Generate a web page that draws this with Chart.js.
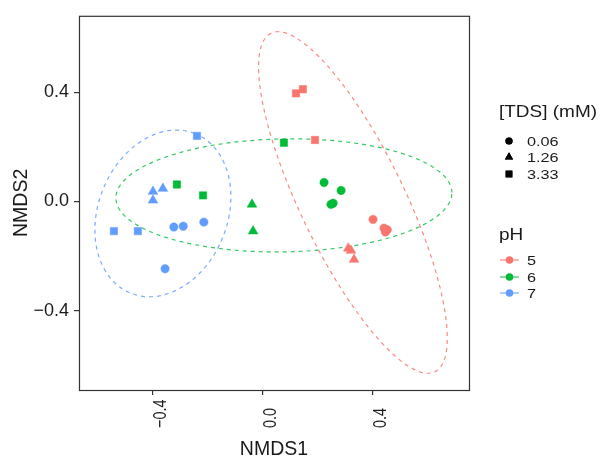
<!DOCTYPE html>
<html>
<head>
<meta charset="utf-8">
<script src="https://cdn.jsdelivr.net/npm/chart.js@4.4.1/dist/chart.umd.min.js"></script>
<style>
  body { margin: 0; background: #fff; }
  #wrap { width: 602px; height: 456px; position: relative; }
</style>
</head>
<body>
<div id="wrap"><canvas id="nmds"></canvas></div>
<script>
// Valores (NMDS1, NMDS2) por grupo de pH
const ph5X = [0.12, 0.145, 0.189, 0.40, 0.44, 0.452, 0.445, 0.31, 0.32, 0.331];
const ph5Y = [0.396, 0.411, 0.225, -0.066, -0.098, -0.104, -0.112, -0.172, -0.18, -0.213];
const ph5Tds = ['3.33', '3.33', '3.33', '0.06', '0.06', '0.06', '0.06', '1.26', '1.26', '1.26'];

const ph6X = [-0.313, -0.218, 0.076, -0.04, -0.036, 0.222, 0.284, 0.247, 0.255];
const ph6Y = [0.062, 0.022, 0.215, -0.011, -0.109, 0.069, 0.04, -0.011, -0.007];
const ph6Tds = ['3.33', '3.33', '3.33', '1.26', '1.26', '0.06', '0.06', '0.06', '0.06'];

const ph7X = [-0.24, -0.542, -0.455, -0.40, -0.364, -0.40, -0.324, -0.29, -0.215, -0.356];
const ph7Y = [0.24, -0.109, -0.109, 0.036, 0.047, 0.004, -0.094, -0.091, -0.076, -0.247];
const ph7Tds = ['3.33', '3.33', '3.33', '1.26', '1.26', '1.26', '0.06', '0.06', '0.06', '0.06'];

// Elipses (centro, semiejes, ángulo en grados) estimadas del gráfico
const phLevels = ['5', '6', '7'];
const ellipseCx = [0.327, 0.076, -0.364];
const ellipseCy = [-0.004, 0.022, -0.044];
const ellipseA = [0.688, 0.611, 0.315];
const ellipseB = [0.190, 0.207, 0.235];
const ellipseAngle = [115.6, 1, 68.5];

const tdsLevels = ['0.06', '1.26', '3.33'];
const xTicks = [-0.4, 0.0, 0.4];
const xTickLabels = ['\u22120.4', '0.0', '0.4'];
const yTicks = [-0.4, 0.0, 0.4];
const yTickLabels = ['\u22120.4', '0.0', '0.4'];

const colores = ['#F8766D', '#00BA38', '#619CFF'];
const coloresElipse = ['rgba(248,118,109,0.85)', 'rgba(0,186,56,0.8)', 'rgba(97,156,255,0.85)'];
const estilos = { '0.06': 'circle', '1.26': 'triangle', '3.33': 'rect' };
const radios = { '0.06': 4.2, '1.26': 5.6, '3.33': 5.2 };
const FONT = "'Liberation Sans', Arial, Helvetica, sans-serif";

function puntos(xs, ys) {
    return xs.map((x, i) => ({ x: x, y: ys[i] }));
}

function elipse(k) {
    const t = ellipseAngle[k] * Math.PI / 180;
    const pts = [];
    for (let i = 0; i <= 120; i++) {
        const u = i / 120 * 2 * Math.PI;
        const ex = ellipseA[k] * Math.cos(u), ey = ellipseB[k] * Math.sin(u);
        pts.push({
            x: ellipseCx[k] + ex * Math.cos(t) - ey * Math.sin(t),
            y: ellipseCy[k] + ex * Math.sin(t) + ey * Math.cos(t)
        });
    }
    return pts;
}

const grupos = [[ph5X, ph5Y, ph5Tds], [ph6X, ph6Y, ph6Tds], [ph7X, ph7Y, ph7Tds]];
const datasets = [];
grupos.forEach((g, k) => {
    datasets.push({
        label: 'pH ' + phLevels[k],
        data: puntos(g[0], g[1]),
        backgroundColor: colores[k],
        borderColor: colores[k],
        borderWidth: 0.5,
        pointStyle: g[2].map(t => estilos[t]),
        pointRadius: g[2].map(t => radios[t]),
        showLine: false
    });
});
grupos.forEach((g, k) => {
    datasets.push({
        label: 'elipse ' + phLevels[k],
        data: elipse(k),
        showLine: true,
        borderColor: coloresElipse[k],
        borderWidth: 1.2,
        borderDash: [4, 4],
        pointRadius: 0,
        fill: false,
        tension: 0
    });
});

function texto(ctx, s, x, y, size, sx, rot, align) {
    ctx.save();
    ctx.translate(x, y);
    if (rot) ctx.rotate(rot);
    ctx.scale(sx, 1);
    ctx.font = size + 'px ' + FONT;
    ctx.textAlign = align || 'left';
    ctx.textBaseline = 'alphabetic';
    ctx.fillStyle = '#1a1a1a';
    ctx.fillText(s, 0, 0);
    ctx.restore();
}

const extras = {
    id: 'extras',
    afterDraw(chart) {
        const ctx = chart.ctx;
        const a = chart.chartArea;
        const xs = chart.scales.x;
        // marco del panel
        ctx.save();
        ctx.strokeStyle = '#333';
        ctx.lineWidth = 1.2;
        ctx.strokeRect(a.left + 0.5, a.top + 0.5, a.right - a.left, a.bottom - a.top);
        ctx.restore();
        // etiquetas del eje x (giradas)
        xTicks.forEach((v, i) => {
            const px = xs.getPixelForValue(v);
            texto(ctx, xTickLabels[i], px + 13, 428, 18.5, 0.78, -Math.PI / 2, 'left');
        });
        // títulos de ejes
        texto(ctx, 'NMDS1', (a.left + a.right) / 2, 455, 19.5, 1, 0, 'center');
        texto(ctx, 'NMDS2', 27, (a.top + a.bottom) / 2, 19.5, 1, -Math.PI / 2, 'center');
        // leyenda TDS
        texto(ctx, '[TDS] (mM)', 499, 117, 16.5, 1.15, 0, 'left');
        const yTds = [141, 157, 174];
        tdsLevels.forEach((t, i) => {
            ctx.save();
            ctx.fillStyle = '#000';
            Chart.helpers.drawPoint(ctx, { pointStyle: estilos[t], radius: t === '0.06' ? 3.6 : 4.8, borderWidth: 0 }, 509, yTds[i]);
            ctx.fill();
            ctx.restore();
            texto(ctx, t, 527, yTds[i] + 5, 13, 1.25, 0, 'left');
        });
        // leyenda pH
        texto(ctx, 'pH', 499, 240, 16.5, 1.15, 0, 'left');
        const yPh = [260, 277, 293];
        phLevels.forEach((p, i) => {
            ctx.save();
            ctx.strokeStyle = coloresElipse[i];
            ctx.lineWidth = 1.2;
            ctx.beginPath();
            ctx.moveTo(500, yPh[i]);
            ctx.lineTo(519, yPh[i]);
            ctx.stroke();
            ctx.fillStyle = colores[i];
            ctx.beginPath();
            ctx.arc(509.5, yPh[i], 3.8, 0, 2 * Math.PI);
            ctx.fill();
            ctx.restore();
            texto(ctx, p, 527, yPh[i] + 5, 13, 1.25, 0, 'left');
        });
    }
};

new Chart(document.getElementById('nmds'), {
    type: 'scatter',
    data: { datasets: datasets },
    options: {
        responsive: true,
        maintainAspectRatio: false,
        animation: false,
        layout: { padding: { left: 0, top: 13, right: 133, bottom: 0 } },
        plugins: { legend: { display: false }, tooltip: { enabled: false } },
        scales: {
            x: {
                type: 'linear',
                min: -0.669,
                max: 0.749,
                afterBuildTicks: s => { s.ticks = xTicks.map(v => ({ value: v })); },
                afterFit: s => { s.height = 66; },
                grid: { drawOnChartArea: false, drawTicks: true, tickLength: 5, color: '#333', lineWidth: 1.2 },
                border: { display: false },
                ticks: { display: false }
            },
            y: {
                type: 'linear',
                min: -0.691,
                max: 0.680,
                afterBuildTicks: s => { s.ticks = yTicks.map(v => ({ value: v })); },
                afterFit: s => { s.width = 79; },
                grid: { drawOnChartArea: false, drawTicks: true, tickLength: 5, color: '#333', lineWidth: 1.2 },
                border: { display: false },
                ticks: {
                    padding: 5,
                    color: '#1a1a1a',
                    font: { size: 18, family: FONT },
                    callback: (v, i) => yTickLabels[i]
                }
            }
        }
    },
    plugins: [extras]
});
</script>
</body>
</html>
